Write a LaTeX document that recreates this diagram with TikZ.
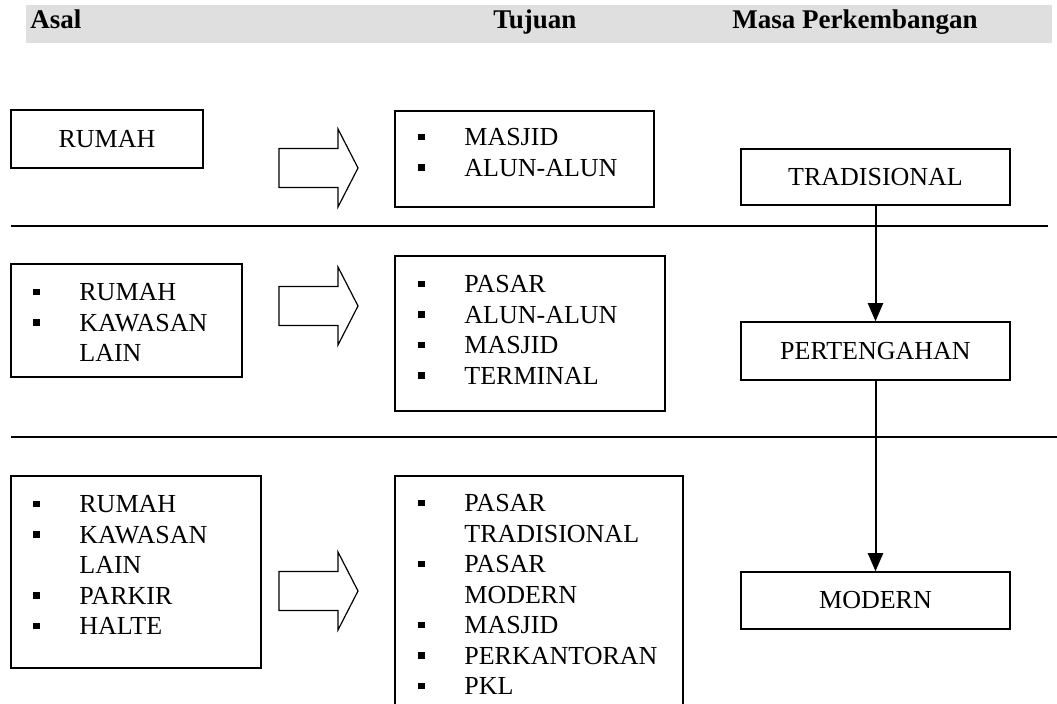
\documentclass[tikz,border=0pt]{standalone}
\usepackage{fontspec}
\setmainfont{Liberation Serif}
\usetikzlibrary{arrows.meta}
\definecolor{abu}{HTML}{DFDFDF}
\newcommand{\butir}[1]{\makebox[23pt][l]{\rule[2.7pt]{3.3pt}{3.3pt}}#1}
\newcommand{\lanjut}[1]{\makebox[23pt][l]{}#1}

\begin{document}
\begin{tikzpicture}[x = 0.5pt, y = -0.5pt, font = \fontsize{13}{15.25}\selectfont,
  kotak/.style = {draw, line width = 0.75pt, inner sep = 0pt},
  daftar/.style = {anchor = north west, inner sep = 0pt, align = left},
  judul/.style = {anchor = base west, inner sep = 0pt, font = \fontsize{13.5}{16}\selectfont\bfseries},
  garis/.style = {line width = 1pt},
  panah/.pic = {\draw[line width = 0.6pt] (-79, -19.5) -- (-20, -19.5) -- (-20, -39) -- (0, 0)
    -- (-20, 39) -- (-20, 19.5) -- (-79, 19.5) -- cycle;}]
\useasboundingbox (0, 0) rectangle (1057, 704);
\clip (0, 0) rectangle (1057, 704);
% header
\fill[abu] (26, 5) rectangle (1052, 43);
\node[judul] (hasal) at (30, 29) {Asal};
\node[judul] (htujuan) at (493, 29) {Tujuan};
\node[judul] (hmasa) at (732, 29) {Masa Perkembangan};
% pemisah baris
\coordinate (g1a) at (11, 226);
\coordinate (g1b) at (1048, 226);
\coordinate (g2a) at (11, 437);
\coordinate (g2b) at (1057, 437);
\draw[garis] (g1a) -- (g1b);
\draw[garis] (g2a) -- (g2b);
% baris 1
\node[kotak, minimum width = 96pt, minimum height = 29pt] (asal1) at (107, 139) {RUMAH};
\pic at (358, 168) {panah};
\node[kotak, minimum width = 129.5pt, minimum height = 48pt] (tujuan1) at (524.5, 159) {};
\node[daftar] (isi1) at (418, 128) {\butir{MASJID}\\ \butir{ALUN-ALUN}};
\node[kotak, minimum width = 134.5pt, minimum height = 28pt] (tradisional) at (875.5, 177) {TRADISIONAL};
% baris 2
\node[kotak, minimum width = 115.5pt, minimum height = 56.5pt] (asal2) at (126.5, 320.5) {};
\node[daftar] (asalisi2) at (33, 283) {\butir{RUMAH}\\ \butir{KAWASAN}\\ \lanjut{LAIN}};
\pic at (358, 306) {panah};
\node[kotak, minimum width = 135pt, minimum height = 77.5pt] (tujuan2) at (530, 333.5) {};
\node[daftar] (isi2) at (418, 275) {\butir{PASAR}\\ \butir{ALUN-ALUN}\\ \butir{MASJID}\\ \butir{TERMINAL}};
\node[kotak, minimum width = 134.5pt, minimum height = 29pt] (pertengahan) at (875.5, 351) {PERTENGAHAN};
% baris 3
\node[kotak, minimum width = 125pt, minimum height = 96pt] (asal3) at (136, 572) {};
\node[daftar] (asalisi3) at (33, 495) {\butir{RUMAH}\\ \butir{KAWASAN}\\ \lanjut{LAIN}\\ \butir{PARKIR}\\ \butir{HALTE}};
\pic at (358, 591) {panah};
\node[kotak, minimum width = 144pt, minimum height = 130pt] (tujuan3) at (539, 606) {};
\node[daftar] (isi3) at (418, 494) {\butir{PASAR}\\ \lanjut{TRADISIONAL}\\ \butir{PASAR}\\ \lanjut{MODERN}\\
  \butir{MASJID}\\ \butir{PERKANTORAN}\\ \butir{PKL}};
\node[kotak, minimum width = 134.5pt, minimum height = 28.5pt] (modern) at (875.5, 600.5) {MODERN};
% masa perkembangan
\draw[garis, -{Triangle[length = 9pt, width = 7.5pt]}] (tradisional) -- (pertengahan);
\draw[garis, -{Triangle[length = 9pt, width = 7.5pt]}] (pertengahan) -- (modern);
\end{tikzpicture}
\end{document}
